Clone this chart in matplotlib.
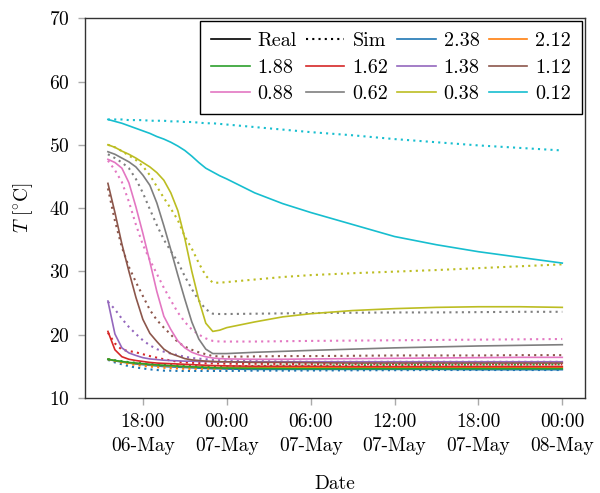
import numpy as np
import pandas as pd
import matplotlib
matplotlib.use('agg')
import matplotlib.pyplot as plt
import matplotlib.dates as mdates
from matplotlib.lines import Line2D

plt.rcParams.update({
    "font.family": "serif",
    "font.serif": ["cmr10"],
    "mathtext.fontset": "cm",
    "axes.formatter.use_mathtext": True,
    "font.size": 14,
})

# hours after 06-May 00:00
hours = [15.5, 16, 16.5, 17, 17.5, 18, 18.5, 19, 19.5, 20, 20.5, 21, 21.5, 22, 22.5,
         23, 23.5, 24, 26, 28, 30, 33, 36, 39, 42, 45, 48]

labels = ["2.38", "2.12", "1.88", "1.62", "1.38", "1.12", "0.88", "0.62", "0.38", "0.12"]

real_238 = [16.1, 15.85, 15.65, 15.5, 15.35, 15.25, 15.15, 15.05, 14.95, 14.9, 14.85, 14.8, 14.75, 14.7, 14.65,
            14.6, 14.6, 14.55, 14.5, 14.5, 14.5, 14.5, 14.5, 14.5, 14.45, 14.45, 14.45]
sim_238 = [16.0, 15.6, 15.3, 15.0, 14.8, 14.65, 14.5, 14.4, 14.3, 14.3, 14.25, 14.25, 14.25, 14.25, 14.25,
           14.25, 14.25, 14.25, 14.3, 14.3, 14.32, 14.35, 14.37, 14.4, 14.4, 14.4, 14.4]
real_212 = [16.1, 15.9, 15.7, 15.55, 15.45, 15.35, 15.25, 15.15, 15.1, 15.05, 15.0, 14.95, 14.9, 14.85, 14.85,
            14.8, 14.8, 14.8, 14.8, 14.8, 14.8, 14.8, 14.8, 14.8, 14.8, 14.8, 14.8]
sim_212 = [16.1, 15.8, 15.55, 15.35, 15.2, 15.05, 14.95, 14.85, 14.75, 14.7, 14.65, 14.6, 14.6, 14.6, 14.6,
           14.6, 14.62, 14.65, 14.7, 14.75, 14.8, 14.82, 14.85, 14.87, 14.9, 14.9, 14.9]
real_188 = [16.1, 15.9, 15.75, 15.6, 15.5, 15.4, 15.3, 15.2, 15.15, 15.1, 15.0, 14.95, 14.9, 14.85, 14.8,
            14.75, 14.72, 14.7, 14.65, 14.62, 14.6, 14.6, 14.6, 14.6, 14.6, 14.6, 14.6]
sim_188 = [16.1, 15.95, 15.8, 15.65, 15.55, 15.45, 15.35, 15.3, 15.25, 15.2, 15.15, 15.1, 15.05, 15.0, 15.0,
           15.0, 15.0, 15.0, 15.05, 15.1, 15.1, 15.15, 15.2, 15.2, 15.25, 15.25, 15.3]
real_162 = [20.5, 17.6, 16.5, 16.1, 15.9, 15.75, 15.6, 15.5, 15.45, 15.4, 15.35, 15.3, 15.25, 15.2, 15.15,
            15.1, 15.08, 15.05, 15.0, 15.0, 15.0, 14.95, 14.95, 14.95, 14.95, 14.95, 14.95]
sim_162 = [20.3, 18.6, 17.6, 17.4, 17.2, 16.9, 16.6, 16.35, 16.1, 15.9, 15.7, 15.6, 15.55, 15.5, 15.47,
           15.45, 15.42, 15.4, 15.38, 15.36, 15.35, 15.33, 15.32, 15.3, 15.3, 15.3, 15.3]
real_138 = [25.3, 20.1, 17.9, 17.1, 16.7, 16.35, 16.15, 16.05, 15.95, 15.9, 15.85, 15.8, 15.8, 15.75, 15.75,
            15.7, 15.7, 15.7, 15.7, 15.7, 15.7, 15.7, 15.7, 15.7, 15.7, 15.7, 15.7]
sim_138 = [25.2, 24.0, 22.5, 21.2, 20.1, 19.1, 18.3, 17.7, 17.3, 17.0, 16.75, 16.5, 16.3, 16.2, 16.1,
           16.0, 15.95, 15.9, 15.8, 15.75, 15.7, 15.7, 15.7, 15.7, 15.7, 15.7, 15.7]
real_112 = [43.9, 39.3, 34.3, 30.0, 25.9, 22.4, 20.2, 18.9, 17.7, 17.0, 16.6, 16.2, 16.0, 15.9, 15.8,
            15.75, 15.7, 15.7, 15.6, 15.6, 15.55, 15.5, 15.5, 15.5, 15.5, 15.5, 15.5]
sim_112 = [43.1, 38.0, 33.8, 30.7, 28.3, 26.1, 23.9, 22.3, 21.1, 20.0, 18.8, 18.1, 17.6, 17.2, 16.9,
           16.6, 16.55, 16.5, 16.55, 16.6, 16.6, 16.65, 16.7, 16.7, 16.7, 16.75, 16.75]
real_088 = [47.7, 47.2, 46.3, 44.0, 40.2, 36.0, 31.5, 26.8, 22.9, 20.8, 19.0, 17.9, 17.2, 16.8, 16.5,
            16.3, 16.2, 16.15, 16.1, 16.1, 16.15, 16.2, 16.25, 16.3, 16.35, 16.4, 16.4]
sim_088 = [47.5, 46.0, 44.1, 41.0, 37.4, 34.2, 31.8, 29.6, 27.4, 25.4, 23.5, 22.0, 20.8, 20.0, 19.4,
           19.0, 18.9, 18.9, 18.9, 18.95, 19.0, 19.05, 19.1, 19.15, 19.2, 19.25, 19.3]
real_062 = [48.9, 48.5, 47.9, 47.3, 46.5, 45.2, 43.6, 40.8, 37.2, 33.4, 29.4, 25.6, 22.0, 19.3, 17.7,
            17.0, 17.0, 17.0, 17.2, 17.35, 17.5, 17.7, 17.9, 18.05, 18.2, 18.3, 18.4]
sim_062 = [48.5, 47.9, 47.2, 46.3, 44.6, 42.4, 39.8, 37.3, 35.0, 33.2, 31.5, 29.2, 27.2, 25.4, 24.0,
           23.3, 23.25, 23.25, 23.3, 23.35, 23.4, 23.45, 23.5, 23.5, 23.55, 23.6, 23.6]
real_038 = [50.0, 49.6, 49.0, 48.5, 47.9, 47.2, 46.5, 45.6, 44.4, 42.4, 39.6, 35.2, 30.0, 25.5, 21.8,
            20.5, 20.7, 21.1, 22.0, 22.8, 23.3, 23.8, 24.1, 24.3, 24.4, 24.4, 24.3]
sim_038 = [50.0, 49.6, 49.0, 48.3, 47.6, 46.6, 45.2, 43.4, 41.6, 39.9, 38.1, 35.5, 33.6, 31.3, 29.3,
           28.2, 28.2, 28.3, 28.7, 29.1, 29.4, 29.7, 29.95, 30.2, 30.5, 30.8, 31.1]
real_012 = [54.0, 53.7, 53.4, 53.0, 52.6, 52.2, 51.8, 51.3, 50.9, 50.4, 49.8, 49.1, 48.2, 47.2, 46.3,
            45.7, 45.1, 44.6, 42.4, 40.7, 39.3, 37.4, 35.5, 34.2, 33.1, 32.2, 31.3]
sim_012 = [54.0, 54.0, 54.0, 53.9, 53.9, 53.9, 53.8, 53.8, 53.8, 53.7, 53.7, 53.6, 53.6, 53.5, 53.4,
           53.4, 53.3, 53.2, 52.8, 52.4, 52.0, 51.5, 50.9, 50.4, 49.9, 49.5, 49.1]

reals = [real_238, real_212, real_188, real_162, real_138, real_112, real_088, real_062, real_038, real_012]
sims = [sim_238, sim_212, sim_188, sim_162, sim_138, sim_112, sim_088, sim_062, sim_038, sim_012]

t = pd.Timestamp("2021-05-06") + pd.to_timedelta(hours, unit="h")

fig = plt.figure(figsize=(6.0, 4.93), dpi=100)
ax = fig.add_axes([0.142, 0.193, 0.833, 0.770])

handles = [Line2D([], [], color="black", lw=1.2, label="Real"),
           Line2D([], [], color="black", lw=1.5, ls=(0, (1, 2)), label="Sim")]
for i, lab in enumerate(labels):
    c = "C%d" % i
    ax.plot(t, reals[i], color=c, lw=1.2)
    ax.plot(t, sims[i], color=c, lw=1.5, ls=(0, (1, 2)))
    handles.append(Line2D([], [], color=c, lw=1.2, label=lab))

ax.set_ylim(10, 70)
ax.set_yticks(np.arange(10, 71, 10))
ax.xaxis.set_major_locator(mdates.HourLocator(byhour=[0, 6, 12, 18]))
ax.xaxis.set_major_formatter(mdates.DateFormatter("%H:%M\n%d-%b"))
ax.tick_params(direction="out", length=5, width=1, color="#aaaaaa", pad=6)
for s in ax.spines.values():
    s.set_color("#333333")
    s.set_linewidth(1.0)

ax.set_xlabel("Date", labelpad=14)
ax.set_ylabel(r"$T\ [^{\circ}\mathrm{C}]$", labelpad=10)

# reorder so the legend fills row by row
order = [h for k in range(4) for h in handles[k::4]]
leg = ax.legend(handles=order, ncol=4, loc="upper right", fancybox=False, edgecolor="black",
                framealpha=1, borderaxespad=0.15, handlelength=1.9, handletextpad=0.4,
                columnspacing=0.45, labelspacing=0.4, borderpad=0.55, fontsize=14.5)
leg.get_frame().set_linewidth(1.0)

fig.canvas.draw()
for lbl in ax.get_xticklabels():
    lbl.set_linespacing(1.45)

fig.savefig("out.png", dpi=100)
